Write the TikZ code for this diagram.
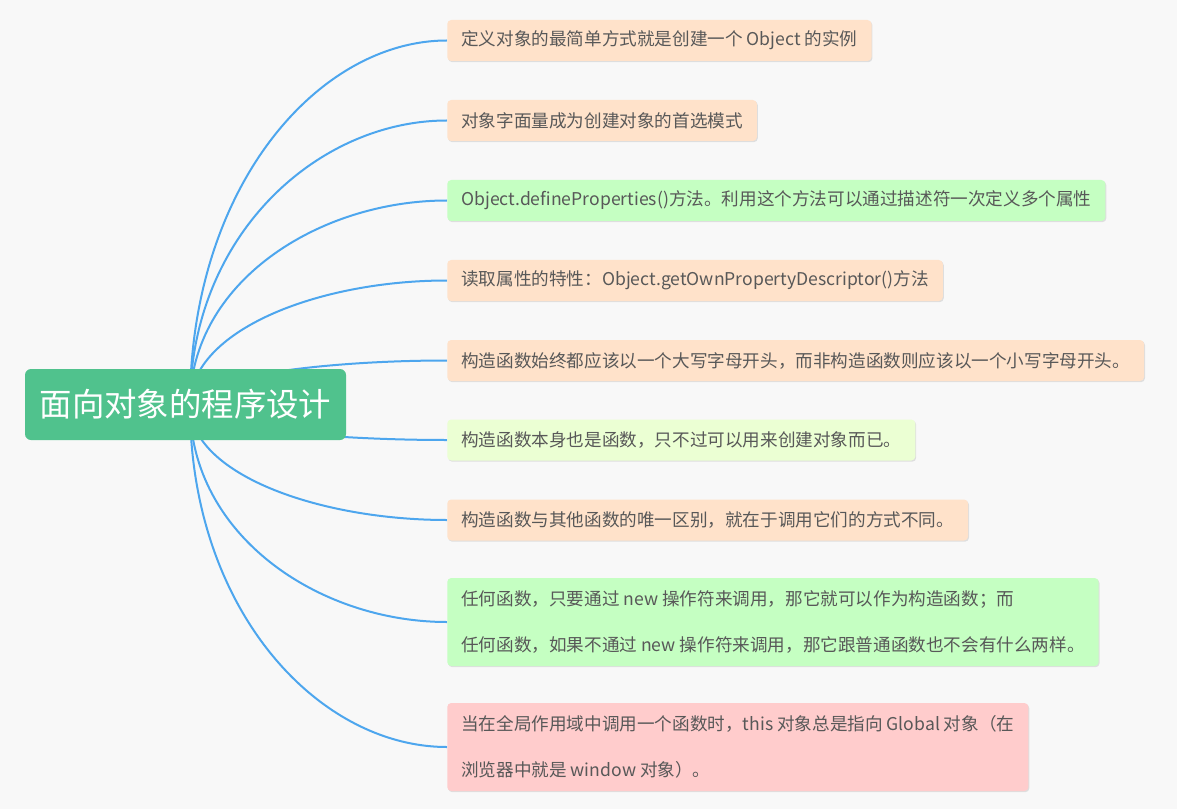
\documentclass[tikz,border=0pt]{standalone}
\usepackage{fontspec}
\setmainfont{Noto Sans CJK SC}
\usetikzlibrary{calc,shadows}
\definecolor{bgc}{HTML}{F8F8F8}
\definecolor{rootc}{HTML}{50C28D}
\definecolor{linec}{HTML}{4DA6EE}
\definecolor{peach}{HTML}{FFE2CA}
\definecolor{mint}{HTML}{C5FFC2}
\definecolor{lime}{HTML}{EBFFD3}
\definecolor{pinkc}{HTML}{FFCCCC}
\definecolor{txt}{HTML}{585858}
\pgfdeclarelayer{bglayer}
\pgfdeclarelayer{edgelayer}
\pgfsetlayers{bglayer,edgelayer,main}
\tikzset{
  leaf/.style={draw=none, rounded corners=3pt, anchor=west, inner xsep=14*0.75pt,
    inner ysep=0pt, minimum height=41*0.75pt, text=txt,
    font=\fontsize{13.2pt}{34.5pt}\selectfont, align=left,
    drop shadow={shadow xshift=0.7pt, shadow yshift=-0.9pt, fill=black, opacity=0.10}},
  twoline/.style={minimum height=88*0.75pt},
  rootbox/.style={fill=rootc, rounded corners=4.5pt, minimum width=321*0.75pt,
    minimum height=71*0.75pt, text=white, inner sep=0pt,
    font=\fontsize{24.3pt}{28pt}\selectfont},
  branch/.style={draw=linec, line width=1.5pt}
}
\begin{document}
\begin{tikzpicture}[x=0.75pt,y=-0.75pt]
\begin{pgfonlayer}{bglayer}
\fill[bgc] (0,0) rectangle (1177,809);
\end{pgfonlayer}
\useasboundingbox (0,0) rectangle (1177,809);

\node[rootbox] (root) at (185.5,404.5) {面向对象的程序设计};
\coordinate (o) at (190,405);

\node[leaf, fill=peach] (b1) at (447,40.5) {定义对象的最简单方式就是创建一个 Object 的实例};
\node[leaf, fill=peach] (b2) at (447,120.5) {对象字面量成为创建对象的首选模式};
\node[leaf, fill=mint] (b3) at (447,200.5) {Object.defineProperties()方法。利用这个方法可以通过描述符一次定义多个属性};
\node[leaf, fill=peach] (b4) at (447,280.5) {读取属性的特性：Object.getOwnPropertyDescriptor()方法};
\node[leaf, fill=peach] (b5) at (447,360.5) {构造函数始终都应该以一个大写字母开头，而非构造函数则应该以一个小写字母开头。};
\node[leaf, fill=lime] (b6) at (447,440) {构造函数本身也是函数，只不过可以用来创建对象而已。};
\node[leaf, fill=peach] (b7) at (447,520) {构造函数与其他函数的唯一区别，就在于调用它们的方式不同。};
\node[leaf, twoline, fill=mint] (b8) at (447,622) {任何函数，只要通过 new 操作符来调用，那它就可以作为构造函数；而\\任何函数，如果不通过 new 操作符来调用，那它跟普通函数也不会有什么两样。};
\node[leaf, twoline, fill=pinkc] (b9) at (447,747) {当在全局作用域中调用一个函数时，this 对象总是指向 Global 对象（在\\浏览器中就是 window 对象）。};

\begin{pgfonlayer}{edgelayer}
\foreach \b in {b1,b2,b3,b4,b5,b6,b7,b8,b9}{
  \draw[branch] (o) .. controls ($(o)!0.6!(o |- \b.west)$) and ($(\b.west)!0.5!(o |- \b.west)$) .. (\b.west);
}
\end{pgfonlayer}
\end{tikzpicture}
\end{document}
